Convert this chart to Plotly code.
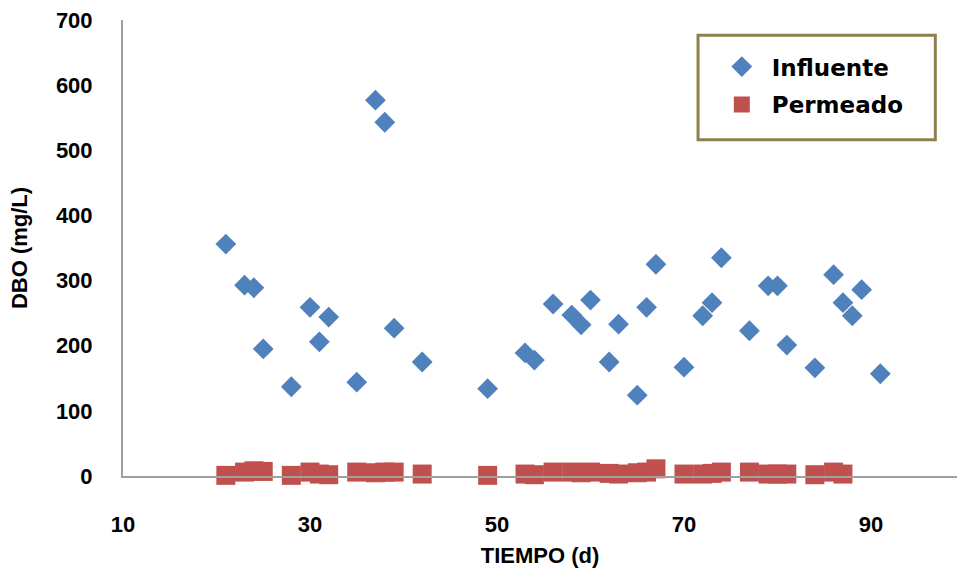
import plotly.graph_objects as go

# Influente
inf_t = [21, 23, 24, 25, 28, 30, 31, 32, 35, 37, 38, 39, 42, 49, 53, 54, 56, 58, 59, 60,
         62, 63, 65, 66, 67, 70, 72, 73, 74, 77, 79, 80, 81, 84, 86, 87, 88, 89, 91]
inf_dbo = [356, 293, 289, 195, 137, 259, 206, 244, 144, 577, 543, 227, 175, 134, 189, 178,
           264, 247, 232, 270, 175, 233, 124, 259, 325, 167, 246, 266, 335, 223, 292, 292,
           201, 166, 309, 266, 246, 286, 157]

# Permeado
per_t = [21, 23, 24, 25, 28, 30, 31, 32, 35, 37, 38, 39, 42, 49, 53, 54, 56, 58, 59, 60,
         62, 63, 65, 66, 67, 70, 72, 73, 74, 77, 79, 80, 81, 84, 86, 87]
per_dbo = [1, 6, 8, 7, 1, 6, 3, 2, 6, 5, 6, 6, 3, 1, 3, 2, 6, 6, 5, 6,
           4, 3, 5, 6, 11, 3, 3, 4, 6, 6, 3, 3, 3, 2, 6, 3]

x_ticks = [10, 30, 50, 70, 90]
y_ticks = [0, 100, 200, 300, 400, 500, 600, 700]

fig = go.Figure()
fig.add_trace(go.Scatter(
    x=inf_t, y=inf_dbo, mode="markers", name="Influente", legendgroup="a",
    marker=dict(symbol="diamond", size=16, color="#4F81BD"),
    cliponaxis=False,
))
fig.add_trace(go.Scatter(
    x=per_t, y=per_dbo, mode="markers", name="Permeado", legendgroup="b",
    marker=dict(symbol="square", size=19, color="#C0504D"),
    cliponaxis=False,
))

tick_font = dict(family="Liberation Sans, Arial, sans-serif", size=22, color="#000000")
title_font = dict(family="Liberation Sans, Arial, sans-serif", size=22, color="#000000")

fig.update_layout(
    width=957, height=571,
    margin=dict(l=123, r=0, t=20, b=95),
    paper_bgcolor="white", plot_bgcolor="white",
    showlegend=True,
    legend=dict(
        x=0.706, y=0.945, xanchor="left", yanchor="top",
        font=dict(family="DejaVu Sans, Verdana, sans-serif", size=23, color="#000000", weight="bold"),
        bgcolor="rgba(0,0,0,0)", borderwidth=0,
        traceorder="grouped", tracegroupgap=5, itemwidth=50,
    ),
    shapes=[dict(
        type="rect", xref="paper", yref="paper",
        x0=0.6895, x1=0.974, y0=0.7375, y1=0.9665,
        line=dict(color="#8E8048", width=3), fillcolor="rgba(0,0,0,0)", layer="above",
    )],
)

fig.update_xaxes(
    range=[10, 99.2], tickvals=x_ticks, ticktext=[str(v) for v in x_ticks],
    showgrid=False, zeroline=False, showline=True, linecolor="#A0A0A0", linewidth=2,
    ticks="", ticklabelstandoff=28,
    tickfont=dict(tick_font, weight="bold"),
    title=dict(text="<b>TIEMPO (d)</b>", font=title_font, standoff=11),
)
fig.update_yaxes(
    range=[0, 700], tickvals=y_ticks, ticktext=[str(v) for v in y_ticks],
    showgrid=False, zeroline=False, showline=True, linecolor="#A0A0A0", linewidth=2,
    ticks="", ticklabelstandoff=24,
    tickfont=dict(tick_font, weight="bold"),
    title=dict(text="<b>DBO (mg/L)</b>", font=title_font, standoff=22),
)

fig.write_html("out.html")
